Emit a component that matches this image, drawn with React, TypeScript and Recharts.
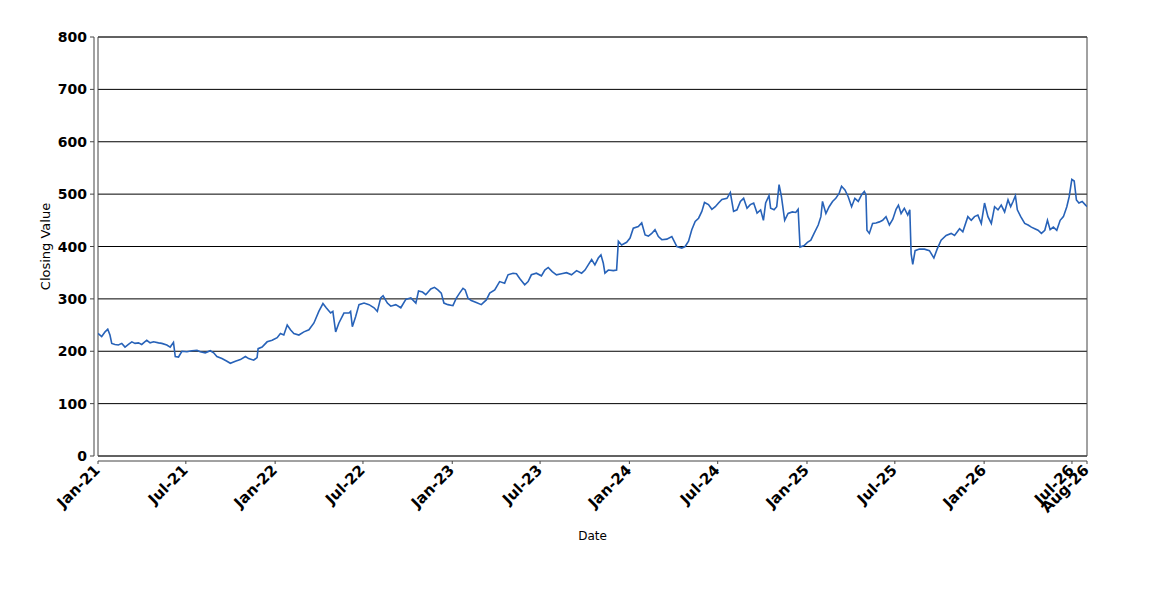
import React from 'react';
import { LineChart, Line, XAxis, YAxis, CartesianGrid, ReferenceArea, Label } from 'recharts';

// x values are months since Jan 2021
const monthsA = [0.0, 0.25, 0.48, 0.66, 0.81, 0.93, 1.15, 1.38, 1.61, 1.83, 2.06, 2.29, 2.51, 2.74, 2.96, 3.3, 3.53, 3.76, 4.1, 4.32, 4.66, 4.89, 5.11, 5.23, 5.45, 5.68, 6.02, 6.36, 6.7, 6.92, 7.26, 7.6, 7.83, 8.05, 8.39, 8.73, 8.96, 9.3, 9.64, 9.98, 10.2, 10.54, 10.77, 10.84, 11.11, 11.45, 11.79, 12.13, 12.35, 12.58, 12.81, 13.03, 13.26, 13.6, 13.94, 14.28, 14.62, 14.95, 15.23, 15.45, 15.75, 15.9, 16.09, 16.31, 16.65, 16.99, 17.1, 17.22, 17.44, 17.67, 18.01, 18.35, 18.69, 18.91, 19.14, 19.3, 19.59, 19.82, 20.16, 20.5, 20.84, 21.18, 21.52, 21.7, 21.97, 22.19, 22.53];
const closeA = [234, 228, 237, 242, 231, 215, 213, 212, 215, 208, 213, 218, 215, 216, 213, 221, 216, 218, 216, 215, 212, 208, 217, 190, 189, 200, 199, 201, 202, 199, 197, 201, 197, 190, 186, 181, 177, 181, 184, 190, 186, 183, 188, 205, 208, 218, 221, 226, 234, 231, 250, 241, 234, 231, 237, 241, 254, 276, 291, 283, 273, 276, 237, 254, 273, 273, 276, 247, 266, 289, 292, 289, 283, 276, 302, 306, 292, 286, 289, 283, 299, 302, 292, 315, 313, 308, 319];

const monthsB = [22.78, 23.01, 23.24, 23.42, 23.69, 24.03, 24.25, 24.48, 24.71, 24.86, 25.05, 25.27, 25.61, 25.95, 26.29, 26.52, 26.86, 27.19, 27.53, 27.76, 28.1, 28.33, 28.55, 28.89, 29.12, 29.34, 29.68, 30.02, 30.25, 30.48, 30.75, 31.04, 31.38, 31.72, 32.06, 32.4, 32.74, 32.97, 33.19, 33.42, 33.64, 33.87, 34.05, 34.21, 34.32, 34.55, 34.89, 35.11, 35.23, 35.45, 35.79, 36.02, 36.24, 36.58, 36.81, 37.04, 37.26, 37.49, 37.71, 37.94, 38.17, 38.51, 38.85, 39.19, 39.52, 39.75, 39.98, 40.2, 40.43, 40.66, 40.88, 41.06, 41.33, 41.56, 41.79, 42.01, 42.24, 42.58, 42.81, 43.03, 43.26, 43.49, 43.71, 43.94, 44.16, 44.39, 44.62];
const closeB = [322, 317, 311, 292, 289, 287, 301, 311, 320, 317, 301, 297, 293, 289, 298, 311, 317, 333, 330, 346, 349, 348, 339, 327, 333, 346, 349, 344, 355, 360, 352, 346, 348, 350, 346, 354, 349, 355, 365, 375, 365, 378, 384, 368, 349, 355, 354, 355, 410, 403, 408, 416, 435, 438, 445, 422, 420, 425, 432, 419, 413, 414, 419, 400, 397, 400, 410, 432, 448, 454, 467, 484, 480, 471, 476, 483, 490, 492, 503, 467, 470, 486, 492, 473, 480, 483, 464];

const monthsC = [44.86, 45.05, 45.2, 45.43, 45.54, 45.77, 45.95, 46.11, 46.27, 46.49, 46.72, 47.01, 47.24, 47.4, 47.53, 47.81, 48.03, 48.26, 48.48, 48.76, 48.94, 49.05, 49.28, 49.5, 49.73, 49.95, 50.18, 50.34, 50.57, 50.79, 51.02, 51.24, 51.47, 51.7, 51.88, 51.99, 52.06, 52.22, 52.44, 52.67, 52.9, 53.12, 53.35, 53.58, 53.81, 54.03, 54.19, 54.37, 54.59, 54.82, 54.96, 55.05, 55.16, 55.32, 55.61, 55.95, 56.29, 56.59, 56.81, 57.08, 57.42, 57.76, 57.99, 58.33, 58.55, 58.89, 59.12, 59.34, 59.57, 59.8, 60.02, 60.25, 60.48, 60.7, 60.93, 61.15, 61.38, 61.61, 61.79, 61.95, 62.11, 62.24, 62.47, 62.74, 62.97, 63.19, 63.42, 63.64, 63.87, 64.1, 64.28, 64.46, 64.68, 64.91, 65.14, 65.36, 65.59, 65.75, 65.93, 66.09, 66.24, 66.41, 66.63, 66.86, 66.97];
const closeC = [470, 450, 483, 497, 473, 470, 476, 518, 495, 450, 463, 466, 465, 471, 399, 402, 408, 412, 425, 441, 457, 486, 463, 476, 486, 492, 502, 515, 508, 495, 476, 492, 486, 499, 505, 499, 431, 425, 444, 445, 447, 450, 457, 441, 452, 471, 479, 463, 473, 460, 470, 386, 366, 392, 395, 395, 392, 378, 395, 412, 421, 425, 421, 434, 428, 457, 450, 457, 460, 444, 483, 457, 444, 476, 470, 479, 466, 489, 476, 486, 497, 470, 457, 444, 441, 437, 434, 431, 425, 431, 450, 432, 437, 431, 450, 457, 476, 495, 528, 525, 489, 483, 486, 479, 476];

const xTickDates = ['2021-01-01', '2021-07-01', '2022-01-01', '2022-07-01', '2023-01-01', '2023-07-01', '2024-01-01', '2024-07-01', '2025-01-01', '2025-07-01', '2026-01-01', '2026-07-01', '2026-08-01'];
const xTickLabels = ['Jan-21', 'Jul-21', 'Jan-22', 'Jul-22', 'Jan-23', 'Jul-23', 'Jan-24', 'Jul-24', 'Jan-25', 'Jul-25', 'Jan-26', 'Jul-26', 'Aug-26'];
const yTicks = [0, 100, 200, 300, 400, 500, 600, 700, 800];

const START = Date.parse('2021-01-01');
const END = Date.parse('2026-08-01');
const MONTH_MS = (365.25 / 12) * 86400000;
const xTicks = xTickDates.map((d) => Date.parse(d));

const data = [
  ...monthsA.map((m, i) => ({ t: START + m * MONTH_MS, v: closeA[i] })),
  ...monthsB.map((m, i) => ({ t: START + m * MONTH_MS, v: closeB[i] })),
  ...monthsC.map((m, i) => ({ t: START + m * MONTH_MS, v: closeC[i] })),
];

const FONT = 'DejaVu Sans';
const AXIS = '#444';

const YTick = (props: any) => {
  const { x, y, payload } = props;
  return (
    <g>
      <line x1={x - 8} x2={x - 4} y1={y} y2={y} stroke={AXIS} />
      <text x={x - 11} y={y} dy="0.36em" textAnchor="end" fontFamily={FONT} fontWeight="bold" fontSize={14} fill="#000">
        {payload.value}
      </text>
    </g>
  );
};

const XTick = (props: any) => {
  const { x, y, payload } = props;
  const label = xTickLabels[xTicks.indexOf(payload.value)];
  const ax = x + 3;
  const ay = y + 15;
  return (
    <g>
      <line x1={x} x2={x} y1={y + 5} y2={y + 8} stroke={AXIS} />
      <text x={ax} y={ay} textAnchor="end" transform={`rotate(-45 ${ax} ${ay})`} fontFamily={FONT} fontWeight="bold" fontSize={15} fill="#000">
        {label}
      </text>
    </g>
  );
};

export default function App() {
  return (
    <div style={{ position: 'absolute', left: 0, top: 0, width: 1150, height: 600, background: '#fff' }}>
      <LineChart width={1150} height={600} data={data} margin={{ top: 37, right: 63, bottom: 84, left: 38 }}>
        <CartesianGrid vertical={false} stroke="#000" />
        <ReferenceArea x1={START} x2={END} y1={0} y2={800} fill="none" fillOpacity={0} stroke={AXIS} />
        <XAxis
          dataKey="t"
          type="number"
          domain={[START, END]}
          ticks={xTicks}
          allowDataOverflow
          height={60}
          tickSize={0}
          tickMargin={0}
          tickLine={false}
          axisLine={{ stroke: AXIS, transform: 'translate(0 5)' }}
          tick={<XTick />}
          interval={0}
        >
          <Label
            content={(p: any) => {
              const vb = p.viewBox;
              return (
                <text x={vb.x + vb.width / 2} y={vb.y + 84} textAnchor="middle" fontFamily={FONT} fontSize={12} fill="#000">
                  Date
                </text>
              );
            }}
          />
        </XAxis>
        <YAxis
          type="number"
          domain={[0, 800]}
          ticks={yTicks}
          width={60}
          tickSize={0}
          tickMargin={0}
          tickLine={false}
          axisLine={{ stroke: AXIS, transform: 'translate(-4 0)' }}
          tick={<YTick />}
          interval={0}
        >
          <Label
            content={(p: any) => {
              const vb = p.viewBox;
              const lx = vb.x + 12;
              const ly = vb.y + vb.height / 2;
              return (
                <text x={lx} y={ly} textAnchor="middle" transform={`rotate(-90 ${lx} ${ly})`} fontFamily={FONT} fontSize={13} fill="#000">
                  Closing Value
                </text>
              );
            }}
          />
        </YAxis>
        <Line type="linear" dataKey="v" stroke="#2762b8" strokeWidth={1.6} dot={false} isAnimationActive={false} />
      </LineChart>
    </div>
  );
}
